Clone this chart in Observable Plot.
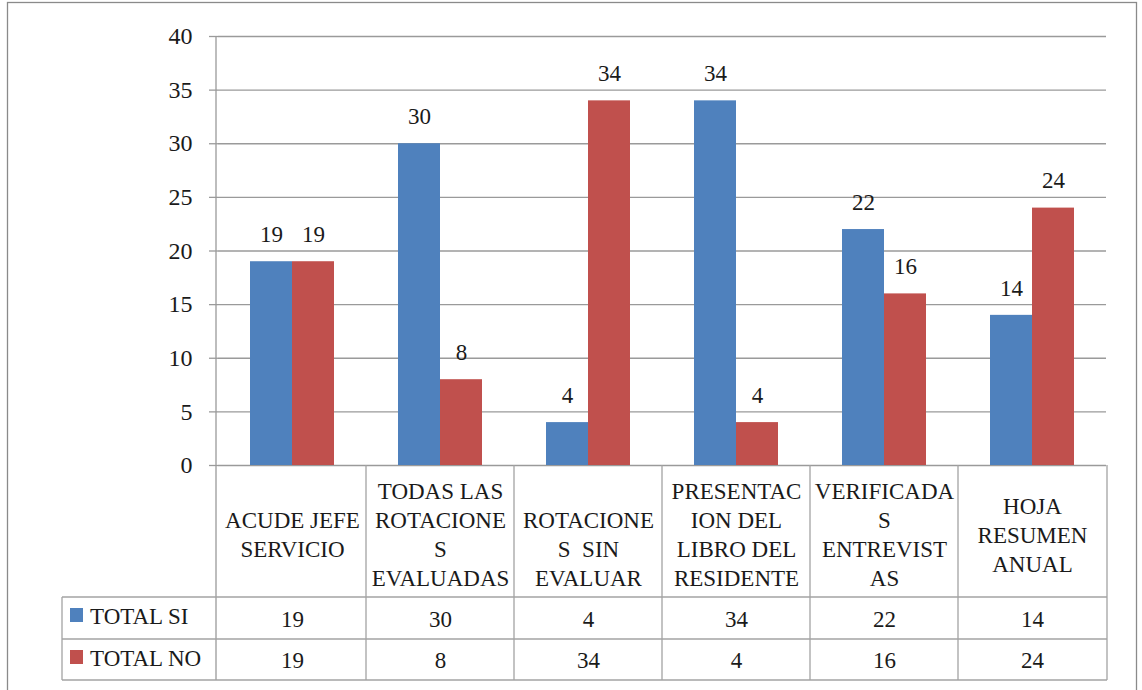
<!DOCTYPE html>
<html>
<head>
<meta charset="utf-8">
<script src="https://cdn.jsdelivr.net/npm/d3@7"></script>
<script src="https://cdn.jsdelivr.net/npm/@observablehq/plot@0.6"></script>
<style>
  html, body { margin: 0; padding: 0; background: #fff; }
  #chart { position: relative; width: 1142px; height: 690px; }
</style>
</head>
<body>
<div id="chart"></div>
<script>
// ---- data ----
const categories = ["ACUDE JEFE SERVICIO", "TODAS LAS ROTACIONES EVALUADAS", "ROTACIONES SIN EVALUAR", "PRESENTACION DEL LIBRO DEL RESIDENTE", "VERIFICADAS ENTREVISTAS", "HOJA RESUMEN ANUAL"];
const categoryLabels = ["ACUDE JEFE\nSERVICIO", "TODAS LAS\nROTACIONE\nS\nEVALUADAS", " \nROTACIONE\nS  SIN\nEVALUAR", "PRESENTAC\nION DEL\nLIBRO DEL\nRESIDENTE", "VERIFICADA\nS\nENTREVIST\nAS", "HOJA\nRESUMEN\nANUAL"];
const seriesNames = ["TOTAL SI", "TOTAL NO"];
const totalSi = [19, 30, 4, 34, 22, 14];
const totalNo = [19, 8, 34, 4, 16, 24];
const yTicks = [0, 5, 10, 15, 20, 25, 30, 35, 40];
const colors = ["#4F81BD", "#C0504D"];

const rows = [];
categories.forEach((c, i) => {
  rows.push({category: c, series: seriesNames[0], value: totalSi[i]});
  rows.push({category: c, series: seriesNames[1], value: totalNo[i]});
});
const labelRows = categories.map((c, i) => ({category: c, label: categoryLabels[i]}));

const FONT = "'Liberation Serif', 'Times New Roman', serif";
const GRID = "#9a9a9a";
const TEXT = "#1a1a1a";

const W = 1142, H = 690;
const mL = 216, mR = 35, mT = 36, mB = 225;

const plot = Plot.plot({
  width: W, height: H,
  marginLeft: mL, marginRight: mR, marginTop: mT, marginBottom: mB,
  style: {fontFamily: FONT, fontSize: "23px", color: TEXT, background: "transparent", overflow: "visible"},
  fx: {domain: categories, padding: 0, axis: null, label: null},
  x: {domain: seriesNames, paddingInner: 0, paddingOuter: 0.75, axis: null, label: null},
  y: {domain: [0, 40], axis: null, label: null},
  color: {domain: seriesNames, range: colors},
  marks: [
    Plot.gridY(yTicks, {stroke: GRID, strokeOpacity: 1, strokeWidth: 1.3}),
    Plot.axisY(yTicks, {label: null, tickSize: 9, tickPadding: 17, stroke: GRID, strokeWidth: 1.3, fontSize: 24, fill: TEXT, tickFormat: d => String(d)}),
    Plot.barY(rows, {fx: "category", x: "series", y: "value", fill: "series"}),
    Plot.text(rows, {fx: "category", x: "series", y: "value", text: d => String(d.value), dy: -27, lineAnchor: "middle", fontSize: 23, fill: TEXT}),
    // category labels row of the data table
    Plot.text(labelRows, {fx: "category", frameAnchor: "bottom", text: "label", dy: 68, lineAnchor: "middle", lineHeight: 1.26, fontSize: 23, fill: TEXT}),
    // data table values
    Plot.text(rows.filter(d => d.series === seriesNames[0]), {fx: "category", frameAnchor: "bottom", text: d => String(d.value), dy: 154, lineAnchor: "middle", fontSize: 23, fill: TEXT}),
    Plot.text(rows.filter(d => d.series === seriesNames[1]), {fx: "category", frameAnchor: "bottom", text: d => String(d.value), dy: 195, lineAnchor: "middle", fontSize: 23, fill: TEXT})
  ]
});

document.getElementById("chart").appendChild(plot);

// ---- table lines, axis line, legend keys and outer border (positioned via the plot's scales) ----
const svg = d3.select(plot);
const fxs = plot.scale("fx");
const ys = plot.scale("y");
const left = fxs.range[0], right = fxs.range[1];
const yTop = ys.apply(40), yZero = ys.apply(0);
const row1 = yZero + 132, row2 = row1 + 42, row3 = row2 + 41;
const legendLeft = 62;
const g = svg.append("g").attr("stroke", "#a3a3a3").attr("stroke-width", 1.3).attr("fill", "none");

// outer chart border
svg.insert("rect", ":first-child").attr("x", 7.5).attr("y", 2.5).attr("width", W - 13).attr("height", H + 10)
  .attr("fill", "#fff").attr("stroke", "#8a8a8a").attr("stroke-width", 1.3);

// axis line
g.append("line").attr("x1", left).attr("x2", left).attr("y1", yTop).attr("y2", row3).attr("stroke", GRID);
// column dividers
const edges = categories.map(c => fxs.apply(c)).concat([right]);
edges.slice(1).forEach(x => g.append("line").attr("x1", x).attr("x2", x).attr("y1", yZero).attr("y2", row3));
// horizontal table lines
[row1, row2, row3].forEach(y => g.append("line").attr("x1", legendLeft).attr("x2", right).attr("y1", y).attr("y2", y));
g.append("line").attr("x1", legendLeft).attr("x2", legendLeft).attr("y1", row1).attr("y2", row3);

// legend keys + series names
seriesNames.forEach((s, i) => {
  const top = i === 0 ? row1 : row2;
  const cy = top + 20;
  svg.append("rect").attr("x", legendLeft + 8).attr("y", cy - 9).attr("width", 13).attr("height", 14)
    .attr("fill", colors[i]);
  svg.append("text").attr("x", legendLeft + 28).attr("y", cy).attr("dy", "0.32em").attr("text-anchor", "start")
    .attr("font-family", FONT).attr("font-size", 23).attr("fill", TEXT).text(s);
});

// serif family on every text node and mark group
svg.attr("font-family", FONT);
svg.selectAll("g").attr("font-family", FONT);
svg.selectAll("text").attr("font-family", FONT);
</script>
</body>
</html>
